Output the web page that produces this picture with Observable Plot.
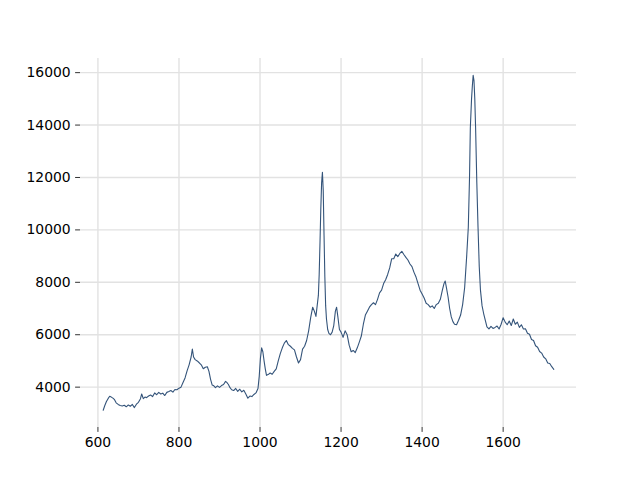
<!DOCTYPE html>
<html>
<head>
<meta charset="utf-8">
<script src="https://cdn.jsdelivr.net/npm/d3@7"></script>
<script src="https://cdn.jsdelivr.net/npm/@observablehq/plot@0.6"></script>
<style>
html, body { margin: 0; padding: 0; background: #fff; }
</style>
</head>
<body>
<div id="chart"></div>
<script>
const shift = [613, 617, 621, 625, 629, 633, 637, 641, 645, 650, 655, 660, 665, 670, 675, 680, 685, 690, 695, 700, 705, 708, 712, 716, 720, 725, 730, 735, 740, 745, 750, 755, 760, 765, 770, 775, 780, 785, 790, 795, 800, 805, 810, 815, 820, 825, 830, 833, 836, 840, 845, 850, 855, 860, 865, 870, 874, 878, 882, 886, 890, 895, 900, 905, 910, 915, 918, 922, 926, 930, 935, 940, 945, 950, 955, 960, 965, 970, 975, 980, 985, 990, 995, 998, 1001, 1004, 1007, 1010, 1013, 1016, 1020, 1025, 1030, 1035, 1040, 1045, 1050, 1055, 1060, 1065, 1070, 1075, 1080, 1085, 1090, 1095, 1100, 1105, 1110, 1115, 1120, 1125, 1130, 1134, 1138, 1141, 1144, 1146, 1148, 1150, 1152, 1154, 1156, 1158, 1160, 1162, 1164, 1167, 1170, 1174, 1178, 1182, 1186, 1189, 1192, 1196, 1200, 1205, 1210, 1215, 1220, 1225, 1230, 1235, 1240, 1245, 1250, 1255, 1260, 1265, 1270, 1275, 1280, 1285, 1290, 1295, 1300, 1305, 1310, 1315, 1320, 1325, 1330, 1335, 1340, 1345, 1350, 1355, 1360, 1365, 1370, 1375, 1380, 1385, 1390, 1395, 1400, 1405, 1410, 1415, 1420, 1425, 1430, 1435, 1440, 1445, 1450, 1454, 1457, 1460, 1464, 1468, 1472, 1476, 1480, 1485, 1490, 1495, 1500, 1505, 1510, 1514, 1517, 1519, 1522, 1524, 1526, 1528, 1530, 1532, 1535, 1538, 1541, 1544, 1548, 1552, 1556, 1560, 1565, 1570, 1575, 1580, 1585, 1590, 1595, 1600, 1605, 1610, 1615, 1620, 1625, 1630, 1635, 1640, 1645, 1650, 1655, 1660, 1665, 1670, 1675, 1680, 1685, 1690, 1695, 1700, 1705, 1710, 1715, 1720, 1725];

const intensity = [3120, 3300, 3450, 3560, 3650, 3620, 3580, 3520, 3400, 3340, 3300, 3280, 3310, 3250, 3320, 3270, 3340, 3220, 3350, 3420, 3560, 3740, 3560, 3620, 3600, 3660, 3700, 3640, 3780, 3710, 3800, 3740, 3770, 3680, 3800, 3830, 3870, 3810, 3910, 3900, 3960, 4000, 4180, 4350, 4620, 4850, 5150, 5450, 5150, 5050, 5000, 4930, 4850, 4700, 4760, 4780, 4600, 4300, 4080, 4050, 3980, 4050, 3990, 4060, 4100, 4220, 4180, 4100, 3980, 3900, 3870, 3950, 3840, 3920, 3820, 3880, 3740, 3580, 3660, 3640, 3720, 3780, 3950, 4400, 5100, 5500, 5350, 5000, 4700, 4450, 4480, 4540, 4490, 4600, 4700, 5000, 5280, 5500, 5680, 5780, 5620, 5560, 5480, 5420, 5150, 4920, 5050, 5450, 5560, 5780, 6150, 6650, 7050, 6900, 6700, 7100, 7500, 8300, 9500, 10800, 11800, 12200, 11500, 9800, 8200, 7100, 6600, 6200, 6050, 6000, 6100, 6350, 6900, 7050, 6700, 6200, 6100, 5900, 6150, 6000, 5600, 5350, 5400, 5320, 5500, 5720, 5950, 6400, 6750, 6900, 7050, 7150, 7220, 7150, 7350, 7600, 7700, 7950, 8100, 8300, 8550, 8900, 8900, 9080, 8980, 9100, 9180, 9060, 8950, 8850, 8700, 8600, 8380, 8200, 7950, 7700, 7550, 7400, 7200, 7150, 7050, 7100, 7000, 7150, 7200, 7350, 7700, 7950, 8050, 7800, 7450, 7000, 6680, 6500, 6400, 6380, 6550, 6750, 7150, 7800, 9000, 10100, 12000, 13900, 15000, 15500, 15900, 15700, 15000, 13900, 11800, 10100, 8600, 7700, 7100, 6800, 6550, 6300, 6220, 6320, 6240, 6280, 6330, 6220, 6400, 6650, 6480, 6380, 6520, 6350, 6600, 6400, 6480, 6280, 6380, 6220, 6230, 6060, 6020, 5820, 5780, 5580, 5520, 5360, 5300, 5150, 5080, 4920, 4900, 4780, 4680];

const xTicks = [600, 800, 1000, 1200, 1400, 1600];
const yTicks = [4000, 6000, 8000, 10000, 12000, 14000, 16000];

const data = shift.map((s, i) => ({x: s, y: intensity[i]}));

const chart = Plot.plot({
  width: 640,
  height: 480,
  marginLeft: 80,
  marginRight: 64,
  marginTop: 58,
  marginBottom: 53,
  style: {fontFamily: "DejaVu Sans", fontSize: "13.9px", color: "#000", background: "#fff"},
  x: {domain: [557, 1781], label: null},
  y: {domain: [2460, 16540], label: null},
  marks: [
    Plot.gridX(xTicks, {stroke: "#e2e2e2", strokeOpacity: 1, strokeWidth: 1.4}),
    Plot.gridY(yTicks, {stroke: "#e2e2e2", strokeOpacity: 1, strokeWidth: 1.4}),
    Plot.line(data, {x: "x", y: "y", stroke: "#34547a", strokeWidth: 1.1}),
    Plot.axisX(xTicks, {tickSize: 4.9, tickPadding: 4.9, tickFormat: d3.format("d"), label: null, stroke: "#333"}),
    Plot.axisY(yTicks, {tickSize: 4.9, tickPadding: 4.9, tickFormat: d3.format("d"), label: null, stroke: "#333"})
  ]
});
document.getElementById("chart").appendChild(chart);
</script>
</body>
</html>
